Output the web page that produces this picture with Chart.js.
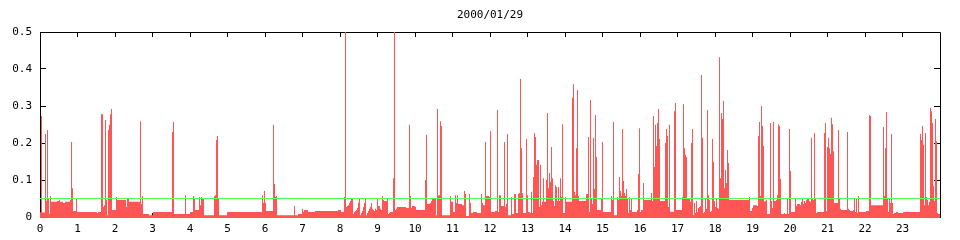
<!DOCTYPE html>
<html><head><meta charset="utf-8">
<script src="https://cdn.jsdelivr.net/npm/chart.js@4/dist/chart.umd.min.js"></script>
<style>html,body{margin:0;padding:0;background:#fff}canvas{display:block}</style>
</head><body>
<canvas id="c" width="960" height="240"></canvas>
<script>
const chartTitle = '2000/01/29';
const hourLabels = ['0','1','2','3','4','5','6','7','8','9','10','11','12','13','14','15','16','17','18','19','20','21','22','23'];
const yTicks = [0, 0.1, 0.2, 0.3, 0.4, 0.5];
const yTickLabels = ['0', '0.1', '0.2', '0.3', '0.4', '0.5'];
const threshold = 0.05;

// [minute of day where the step starts, value]
const h00 = [[0,0.013],[1.6,0.273],[3.2,0.012],[8,0.224],[9.6,0.044],[11.2,0.235],[12.8,0.05],[14.4,0.009],[16,0.057],[17.6,0.041],[27.2,0.043],[30.4,0.046],[32,0.041],[36.8,0.038],[40,0.041],[48,0.046],[49.6,0.203],[51.2,0.078],[52.8,0.016],[57.6,0.051],[59.2,0.0135],[91.2,0.011],[92.8,0.0135],[97.6,0.278],[100.8,0.027],[102.4,0.032],[104,0.262],[105.6,0.046],[107.2,0.005],[108.8,0.235],[110.4,0.249],[112,0.278],[113.6,0.292],[115.2,0.019],[121.6,0.054],[123.2,0.046],[137.6,0.027],[139.2,0.051],[142.4,0.041],[160,0.259],[161.6,0.035],[163.2,0.057],[164.8,0.008],[174.4,0.005],[180.8,0.0135]];
const h03 = [[211.2,0.23],[212.8,0.257],[214.4,0.008],[232,0.059],[233.6,0.008],[240,0.0135],[244.8,0.057],[246.4,0.051],[248,0.019],[254.4,0.054],[256,0.032],[257.6,0.054],[259.2,0.049],[260.8,0.051],[262.4,0.005],[278.4,0.057],[280,0.059],[281.6,0.208],[283.2,0.219],[284.8,0.051],[286.4,0.005],[299.2,0.0135],[355.2,0.059],[356.8,0.038],[358.4,0.07],[360,0.038],[361.6,0.016],[372.8,0.249],[374.4,0.089],[376,0.054],[377.6,0.057],[379.2,0.005],[406.4,0.03],[408,0.005],[412.8,0.008]];
const h07 = [[419.2,0.022],[420.8,0.0135],[422.4,0.019],[428.8,0.0135],[440,0.016],[476.8,0.019],[481.6,0.0135],[486.4,0.054],[488,0.5],[489.6,0.027],[491.2,0.03],[492.8,0.032],[494.4,0.038],[496,0.043],[497.6,0.049],[499.2,0.051],[500.8,0.008],[502.4,0.0135],[504,0.016],[505.6,0.019],[507.2,0.024],[508.8,0.038],[510.4,0.051],[512,0.005],[513.6,0.011],[515.2,0.016],[516.8,0.027],[518.4,0.038],[520,0.051],[521.6,0.005],[523.2,0.011],[524.8,0.016],[526.4,0.022],[528,0.027],[529.6,0.038],[531.2,0.022],[532.8,0.019],[534.4,0.016],[536,0.022],[537.6,0.019],[539.2,0.051],[540.8,0.03],[544,0.022],[545.6,0.019],[547.2,0.057],[548.8,0.046],[550.4,0.043],[555.2,0.051],[556.8,0.008],[558.4,0.011],[560,0.0135],[564.8,0.105],[566.4,0.5],[568,0.019],[569.6,0.022],[571.2,0.027],[585.6,0.024],[590.4,0.249],[592,0.057],[593.6,0.024],[595.2,0.03],[600,0.027],[601.6,0.019],[616,0.1],[617.6,0.222],[619.2,0.035]];
const h10 = [[624,0.038],[625.6,0.043],[627.2,0.049],[633.6,0.005],[635.2,0.292],[636.8,0.059],[640,0.259],[641.6,0.246],[643.2,0.005],[656,0.057],[657.6,0.041],[660.8,0.0135],[664,0.059],[665.6,0.038],[667.2,0.059],[668.8,0.035],[675.2,0.032],[678.4,0.07],[680,0.062],[681.6,0.003],[686.4,0.062],[688,0.038],[689.6,0.011],[692.8,0.0135],[699.2,0.011],[705.6,0.062],[707.2,0.038],[708.8,0.032],[712,0.203],[713.6,0.057],[718.4,0.054],[720,0.232],[721.6,0.0135],[728,0.016],[731.2,0.289],[732.8,0.0135],[734.4,0.059],[737.6,0.03],[742.4,0.203],[744,0.027],[745.6,0.035],[747.2,0.224],[748.8,0.005],[753.6,0.054],[755.2,0.008],[758.4,0.062],[761.6,0.011],[764.8,0.062],[766.4,0.065],[768,0.373],[769.6,0.186],[771.2,0.065],[772.8,0.011],[777.6,0.211],[779.2,0.059],[780.8,0.0135],[784,0.011],[785.6,0.068],[787.2,0.011],[788.8,0.108],[790.4,0.227],[792,0.216],[793.6,0.141],[795.2,0.154],[798.4,0.027],[800,0.141],[801.6,0.032],[803.2,0.041],[804.8,0.105],[806.4,0.041],[809.6,0.1],[811.2,0.281],[812.8,0.078],[814.4,0.119],[816,0.095],[817.6,0.189],[819.2,0.105],[820.8,0.043],[822.4,0.03],[824,0.086],[825.6,0.081],[827.2,0.043]];
const h14 = [[828.8,0.081],[830.4,0.043],[832,0.105],[833.6,0.054],[835.2,0.251],[836.8,0.011],[840,0.054],[841.6,0.041],[851.2,0.322],[852.8,0.359],[854.4,0.068],[856,0.059],[857.6,0.186],[859.2,0.343],[860.8,0.057],[862.4,0.043],[873.6,0.062],[876.8,0.216],[878.4,0.0135],[880,0.316],[881.6,0.051],[883.2,0.035],[884.8,0.214],[886.4,0.076],[888,0.276],[889.6,0.162],[891.2,0.019],[897.6,0.051],[899.2,0.203],[900.8,0.0135],[913.6,0.057],[915.2,0.046],[916.8,0.257],[918.4,0.005],[923.2,0.054],[924.8,0.046],[926.4,0.108],[928,0.07],[929.6,0.057],[931.2,0.238],[932.8,0.097],[934.4,0.065],[936,0.057],[937.6,0.076],[939.2,0.051],[940.8,0.011],[942.4,0.054],[944,0.019],[945.6,0.051],[947.2,0.0135],[955.2,0.019],[956.8,0.116],[958.4,0.24],[960,0.0135],[961.6,0.019],[964.8,0.092],[966.4,0.046],[977.6,0.065],[979.2,0.043],[980.8,0.273],[982.4,0.135],[984,0.249],[985.6,0.192],[987.2,0.254],[988.8,0.292],[990.4,0.211],[992,0.043],[1000,0.2],[1001.6,0.238],[1003.2,0.219],[1004.8,0.027],[1006.4,0.249],[1008,0.014],[1014.4,0.286],[1016,0.308],[1017.6,0.019],[1027.2,0.054],[1028.8,0.305],[1030.4,0.186],[1032,0.168],[1033.6,0.162],[1035.2,0.049]];
const h17 = [[1036.8,0.051],[1040,0.041],[1041.6,0.2],[1043.2,0.238],[1044.8,0.005],[1046.4,0.038],[1048,0.011],[1049.6,0.043],[1051.2,0.0135],[1052.8,0.024],[1054.4,0.027],[1056,0.03],[1057.6,0.384],[1059.2,0.214],[1060.8,0.011],[1062.4,0.0135],[1064,0.051],[1065.6,0.022],[1067.2,0.289],[1068.8,0.059],[1070.4,0.046],[1072,0.0135],[1073.6,0.016],[1075.2,0.211],[1076.8,0.149],[1078.4,0.043],[1080,0.027],[1081.6,0.051],[1083.2,0.024],[1084.8,0.022],[1086.4,0.432],[1088,0.105],[1089.6,0.281],[1091.2,0.265],[1092.8,0.314],[1094.4,0.078],[1096,0.127],[1097.6,0.092],[1099.2,0.181],[1100.8,0.146],[1102.4,0.046],[1134.4,0.054],[1136,0.016],[1139.2,0.024],[1140.8,0.032],[1147.2,0.03],[1148.8,0.219],[1150.4,0.257],[1152,0.057],[1153.6,0.3],[1155.2,0.246],[1156.8,0.192],[1158.4,0.041],[1160,0.043],[1161.6,0.046],[1163.2,0.008],[1168,0.254],[1169.6,0.043],[1171.2,0.024],[1172.8,0.257],[1174.4,0.043],[1177.6,0.046],[1179.2,0.059],[1180.8,0.251],[1182.4,0.246],[1184,0.103],[1185.6,0.008],[1190.4,0.011],[1192,0.008],[1195.2,0.049],[1196.8,0.008],[1198.4,0.238],[1200,0.124],[1201.6,0.0135],[1208,0.051],[1209.6,0.03],[1211.2,0.035],[1216,0.032],[1217.6,0.041],[1219.2,0.049],[1220.8,0.035],[1222.4,0.043],[1224,0.038],[1225.6,0.046],[1227.2,0.051],[1228.8,0.049],[1230.4,0.043],[1232,0.041],[1233.6,0.214],[1235.2,0.049],[1236.8,0.046],[1238.4,0.227],[1240,0.049],[1241.6,0.011],[1243.2,0.0135]];
const h21 = [[1254.4,0.227],[1256,0.254],[1257.6,0.016],[1259.2,0.189],[1260.8,0.214],[1262.4,0.186],[1264,0.17],[1265.6,0.268],[1267.2,0.251],[1268.8,0.178],[1270.4,0.038],[1276.8,0.235],[1278.4,0.051],[1280,0.022],[1281.6,0.019],[1291.2,0.23],[1292.8,0.022],[1294.4,0.019],[1296,0.016],[1300.8,0.019],[1302.4,0.051],[1304,0.0135],[1305.6,0.049],[1307.2,0.011],[1308.8,0.057],[1310.4,0.0135],[1321.6,0.016],[1326.4,0.276],[1328,0.273],[1329.6,0.032],[1348.8,0.243],[1350.4,0.057],[1352,0.186],[1353.6,0.284],[1355.2,0.051],[1356.8,0.0135],[1358.4,0.051],[1360,0.038],[1361.6,0.224],[1363.2,0.038],[1364.8,0.008],[1366.4,0.011],[1369.6,0.0135],[1372.8,0.011],[1380.8,0.0135],[1408,0.224],[1409.6,0.208],[1411.2,0.246],[1412.8,0.195],[1414.4,0.032],[1416,0.227],[1417.6,0.054],[1419.2,0.046],[1420.8,0.032],[1422.4,0.041],[1424,0.295],[1425.6,0.286],[1427.2,0.254],[1428.8,0.084],[1430.4,0.043],[1432,0.265],[1433.6,0.205],[1435.2,0.011],[1436.8,0.008],[1440,0.008]];

const series = [].concat(h00, h03, h07, h10, h14, h17, h21);
const thresholdLine = [[0, threshold], [1440, threshold]];

const FONT = {family: '"DejaVu Sans Mono", "Liberation Mono", monospace', size: 11, weight: 'normal'};

const frame = {
  id: 'frame',
  beforeDatasetsDraw(chart) {
    const {ctx, chartArea: a, scales: {x, y}} = chart;
    ctx.save();
    ctx.strokeStyle = '#000';
    ctx.lineWidth = 1;
    ctx.beginPath();
    const l = Math.floor(a.left) + 0.5, r = Math.floor(a.right) + 0.5, t = Math.floor(a.top) + 0.5;
    ctx.moveTo(l, a.bottom); ctx.lineTo(l, t); ctx.lineTo(r, t); ctx.lineTo(r, a.bottom);
    x.ticks.forEach(tk => {
      const px = Math.floor(x.getPixelForValue(tk.value)) + 0.5;
      ctx.moveTo(px, a.top); ctx.lineTo(px, a.top + 5);
      ctx.moveTo(px, a.bottom); ctx.lineTo(px, a.bottom - 5);
    });
    y.ticks.forEach(tk => {
      const py = Math.floor(y.getPixelForValue(tk.value)) + 0.5;
      ctx.moveTo(a.left, py); ctx.lineTo(a.left + 6, py);
      ctx.moveTo(a.right, py); ctx.lineTo(a.right - 6, py);
    });
    ctx.stroke();
    ctx.restore();
  }
};

new Chart(document.getElementById('c'), {
  type: 'line',
  data: {
    datasets: [
      {data: thresholdLine, borderColor: '#55ff55', borderWidth: 1, fill: false, pointRadius: 0, order: 0},
      {data: series, stepped: true, fill: 'start', backgroundColor: '#ff5555', borderColor: 'rgba(0,0,0,0)', borderWidth: 0, pointRadius: 0, order: 1}
    ]
  },
  options: {
    responsive: false,
    devicePixelRatio: 1,
    animation: false,
    events: [],
    layout: {padding: {left: 0, right: 20, top: 0, bottom: 0}, autoPadding: false},
    plugins: {
      legend: {display: false},
      tooltip: {enabled: false},
      title: {display: true, text: chartTitle, color: '#000', font: FONT, fullSize: false, padding: {top: 8.4, bottom: 10.4}}
    },
    scales: {
      x: {
        type: 'linear', min: 0, max: 1440,
        grid: {display: false, drawTicks: false},
        border: {display: false},
        afterBuildTicks: s => { s.ticks = hourLabels.map((_, i) => ({value: i * 60})); },
        afterFit: s => { s.height = 22; },
        ticks: {autoSkip: false, maxRotation: 0, minRotation: 0, padding: 4.4, color: '#000', font: FONT,
          callback: (v, i) => hourLabels[i]}
      },
      y: {
        type: 'linear', min: -0.5 / 185, max: 0.5,
        grid: {display: false, drawTicks: false},
        border: {display: false},
        afterBuildTicks: s => { s.ticks = yTicks.map(v => ({value: v})); },
        afterFit: s => { s.width = 40; },
        ticks: {padding: 8, color: '#000', font: FONT, callback: (v, i) => yTickLabels[i]}
      }
    }
  },
  plugins: [frame]
});
</script>
</body></html>
